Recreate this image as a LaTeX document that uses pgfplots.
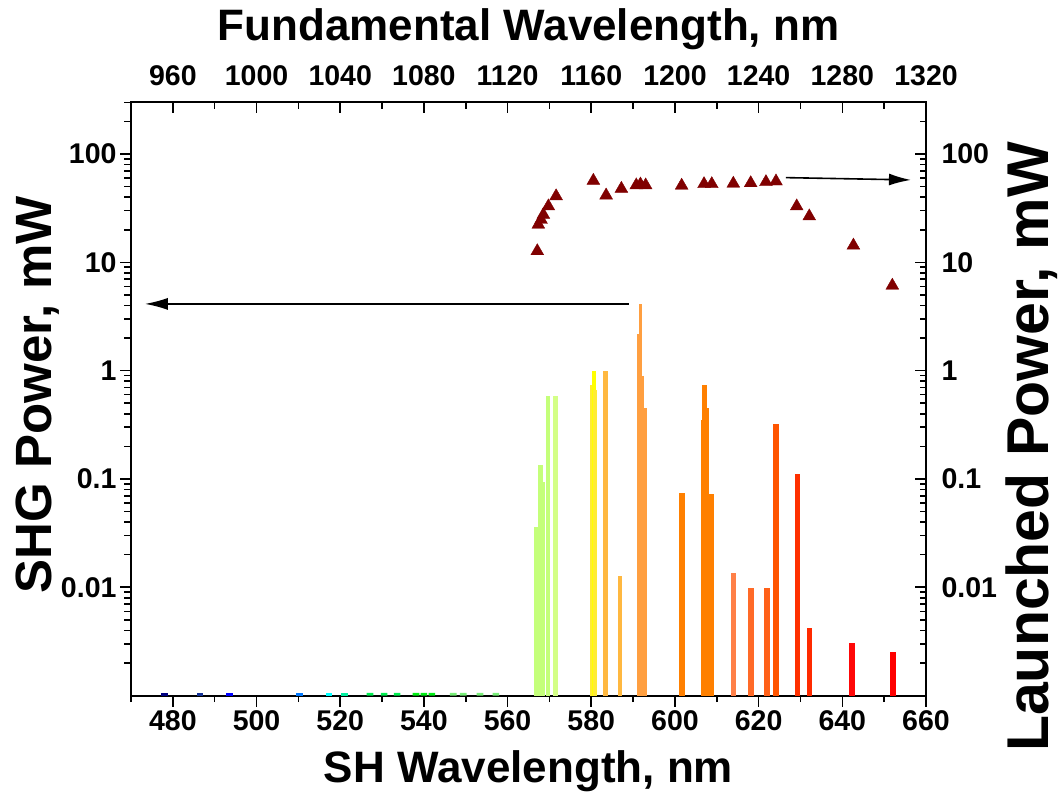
\documentclass[border=0pt]{standalone}
\usepackage{fontspec}
\setmainfont{Liberation Sans}
\usepackage{pgfplots}
\pgfplotsset{compat=1.18}
\usetikzlibrary{arrows.meta}
\definecolor{tri}{RGB}{128,0,0}
\definecolor{c1}{RGB}{0,0,128}
\definecolor{c2}{RGB}{20,50,150}
\definecolor{c3}{RGB}{0,0,255}
\definecolor{c4}{RGB}{0,120,255}
\definecolor{c5}{RGB}{0,255,255}
\definecolor{c6}{RGB}{0,240,160}
\definecolor{c7}{RGB}{0,238,80}
\definecolor{c8}{RGB}{0,238,20}
\definecolor{c9}{RGB}{120,238,120}
\definecolor{g1}{RGB}{196,255,122}
\definecolor{g2}{RGB}{212,255,135}
\definecolor{y1}{RGB}{255,236,50}
\definecolor{y2}{RGB}{255,255,0}
\definecolor{o1}{RGB}{255,184,64}
\definecolor{o2}{RGB}{255,159,64}
\definecolor{o3}{RGB}{255,128,0}
\definecolor{o4}{RGB}{255,128,72}
\definecolor{o5}{RGB}{255,106,40}
\definecolor{o6}{RGB}{255,96,24}
\definecolor{o7}{RGB}{255,85,0}
\definecolor{r1}{RGB}{255,48,0}
\definecolor{r2}{RGB}{255,42,0}
\definecolor{r3}{RGB}{255,8,8}
\definecolor{r4}{RGB}{255,0,0}
\begin{document}
\begin{tikzpicture}
\useasboundingbox (-131pt,-97.4pt) rectangle (931pt,695.6pt);
\begin{axis}[
  scale only axis, width=795pt, height=593.3pt,
  ymode=log, ymin=0.001, ymax=300, log origin=infty,
  ytick={0.01,0.1,1,10,100}, yticklabels={0.01,0.1,1,10,100},
  minor ytick={0.002,0.003,0.004,0.005,0.006,0.007,0.008,0.009,0.02,0.03,0.04,0.05,0.06,0.07,0.08,0.09,0.2,0.3,0.4,0.5,0.6,0.7,0.8,0.9,2,3,4,5,6,7,8,9,20,30,40,50,60,70,80,90,200,300},
  /pgf/number format/assume math mode=true,
  scaled x ticks=false,
  tick label style={font=\fontsize{28.5}{28.5}\selectfont\bfseries},
  axis line style={line width=2pt},
  every tick/.style={line width=1.6pt, black},
  major tick length=11pt, minor tick length=6.5pt,
  xmin=470, xmax=660,
  xtick={480,500,...,660}, minor xtick={470,490,...,650},
  xtick pos=bottom, ytick pos=left, tick align=outside,
  xlabel={SH Wavelength, nm}, ylabel={SHG Power, mW},
  xlabel style={font=\fontsize{44}{44}\selectfont\bfseries, at={(axis description cs:0.5,-0.147)}, anchor=base},
  ylabel style={font=\fontsize{51}{51}\selectfont\bfseries, at={(axis description cs:-0.118,0.507)}, anchor=center},
]
% baseline bars
\addplot[ybar, bar shift=0pt, bar width=1.6, draw=none, fill=c1] coordinates {(478.0,0.00106)};
\addplot[ybar, bar shift=0pt, bar width=1.6, draw=none, fill=c2] coordinates {(486.5,0.00106)};
\addplot[ybar, bar shift=0pt, bar width=1.6, draw=none, fill=c3] coordinates {(493.5,0.00106)};
\addplot[ybar, bar shift=0pt, bar width=1.6, draw=none, fill=c4] coordinates {(510.3,0.00106)};
\addplot[ybar, bar shift=0pt, bar width=1.6, draw=none, fill=c5] coordinates {(517.3,0.00106)};
\addplot[ybar, bar shift=0pt, bar width=1.6, draw=none, fill=c6] coordinates {(521.1,0.00106)};
\addplot[ybar, bar shift=0pt, bar width=1.6, draw=none, fill=c7] coordinates {(527.1,0.00106) (530.5,0.00106) (533.6,0.00106)};
\addplot[ybar, bar shift=0pt, bar width=1.6, draw=none, fill=c8] coordinates {(538.1,0.00106) (540.0,0.00106) (541.9,0.00106)};
\addplot[ybar, bar shift=0pt, bar width=1.6, draw=none, fill=c9] coordinates {(547.0,0.00106) (549.4,0.00106) (553.4,0.00106) (557.2,0.00106)};
% green cluster
\addplot[ybar, bar shift=0pt, bar width=1.0, draw=none, fill=g1] coordinates {(566.9,0.036)};
\addplot[ybar, bar shift=0pt, bar width=1.2, draw=none, fill=g1] coordinates {(567.8,0.135)};
\addplot[ybar, bar shift=0pt, bar width=0.8, draw=none, fill=g1] coordinates {(568.6,0.0945)};
\addplot[ybar, bar shift=0pt, bar width=1.1, draw=none, fill=g1] coordinates {(569.7,0.587)};
\addplot[ybar, bar shift=0pt, bar width=1.1, draw=none, fill=g2] coordinates {(571.5,0.587)};
% yellow cluster
\addplot[ybar, bar shift=0pt, bar width=1.4, draw=none, fill=y1] coordinates {(580.3,0.74)};
\addplot[ybar, bar shift=0pt, bar width=1.0, draw=none, fill=y2] coordinates {(580.6,1.0)};
\addplot[ybar, bar shift=0pt, bar width=0.9, draw=none, fill=y1] coordinates {(580.9,0.66)};
\addplot[ybar, bar shift=0pt, bar width=1.2, draw=none, fill=o1] coordinates {(583.5,0.99)};
\addplot[ybar, bar shift=0pt, bar width=0.9, draw=none, fill=o1] coordinates {(586.9,0.0127)};
% orange cluster
\addplot[ybar, bar shift=0pt, bar width=1.6, draw=none, fill=o2] coordinates {(591.8,0.89)};
\addplot[ybar, bar shift=0pt, bar width=1.2, draw=none, fill=o2] coordinates {(591.6,2.2)};
\addplot[ybar, bar shift=0pt, bar width=0.7, draw=none, fill=o2] coordinates {(591.7,4.13)};
\addplot[ybar, bar shift=0pt, bar width=0.9, draw=none, fill=o2] coordinates {(592.8,0.45)};
% 600-610
\addplot[ybar, bar shift=0pt, bar width=1.3, draw=none, fill=o3] coordinates {(601.7,0.0747)};
\addplot[ybar, bar shift=0pt, bar width=1.3, draw=none, fill=o3] coordinates {(606.9,0.35)};
\addplot[ybar, bar shift=0pt, bar width=1.3, draw=none, fill=o3] coordinates {(607.1,0.743)};
\addplot[ybar, bar shift=0pt, bar width=1.6, draw=none, fill=o3] coordinates {(607.4,0.45)};
\addplot[ybar, bar shift=0pt, bar width=1.3, draw=none, fill=o3] coordinates {(608.7,0.0727)};
% 610-660
\addplot[ybar, bar shift=0pt, bar width=1.4, draw=none, fill=o4] coordinates {(614.0,0.0135)};
\addplot[ybar, bar shift=0pt, bar width=1.4, draw=none, fill=o5] coordinates {(618.2,0.0099)};
\addplot[ybar, bar shift=0pt, bar width=1.3, draw=none, fill=o6] coordinates {(622.0,0.0099)};
\addplot[ybar, bar shift=0pt, bar width=1.3, draw=none, fill=o7] coordinates {(624.1,0.322)};
\addplot[ybar, bar shift=0pt, bar width=1.4, draw=none, fill=r1] coordinates {(629.3,0.112)};
\addplot[ybar, bar shift=0pt, bar width=1.3, draw=none, fill=r2] coordinates {(632.2,0.00418)};
\addplot[ybar, bar shift=0pt, bar width=1.4, draw=none, fill=r3] coordinates {(642.4,0.00308)};
\addplot[ybar, bar shift=0pt, bar width=1.4, draw=none, fill=r4] coordinates {(652.1,0.00254)};
\draw[-{Latex[length=23pt,width=12pt]}, line width=1.6pt] (axis cs:589,4.13) -- (axis cs:473.3,4.13);
\end{axis}
\begin{axis}[
  scale only axis, width=795pt, height=593.3pt,
  ymode=log, ymin=0.001, ymax=300,
  ytick={0.01,0.1,1,10,100}, yticklabels={0.01,0.1,1,10,100},
  minor ytick={0.002,0.003,0.004,0.005,0.006,0.007,0.008,0.009,0.02,0.03,0.04,0.05,0.06,0.07,0.08,0.09,0.2,0.3,0.4,0.5,0.6,0.7,0.8,0.9,2,3,4,5,6,7,8,9,20,30,40,50,60,70,80,90,200,300},
  xticklabels={960,1000,1040,1080,1120,1160,1200,1240,1280,1320},
  scaled x ticks=false,
  tick label style={font=\fontsize{28.5}{28.5}\selectfont\bfseries},
  xticklabel shift=13pt, yticklabel shift=12pt,
  axis line style={line width=2pt},
  every tick/.style={line width=1.6pt, black},
  major tick length=11pt, minor tick length=6.5pt,
  xmin=940, xmax=1320,
  xtick={960,1000,...,1320}, minor xtick={940,980,...,1300},
  axis x line*=top, axis y line*=right, tick align=inside,
  xlabel={Fundamental Wavelength, nm}, ylabel={Launched Power, mW},
  xlabel style={font=\fontsize{44}{44}\selectfont\bfseries, at={(axis description cs:0.5,1.105)}, anchor=base},
  ylabel style={font=\fontsize{59}{59}\selectfont\bfseries, at={(axis description cs:1.133,0.419)}, anchor=center},
]
\addplot[only marks, mark=triangle*, mark size=7.4pt, color=tri] coordinates {
(1134.2,12.7) (1134.7,22.3) (1136.0,24.7) (1137.1,27.5) (1139.5,32.9) (1143.2,40.8)
(1161.0,56.7) (1167.1,41.5) (1174.4,47.8) (1181.5,51.4) (1183.5,52.4) (1186.0,51.4)
(1203.2,51.1) (1213.9,52.8) (1217.6,52.8) (1227.9,53.3) (1236.2,53.9) (1243.5,55.1)
(1248.3,55.9) (1258.2,32.9) (1264.2,26.6) (1285.3,14.3) (1303.9,6.1)
};
\draw[-{Latex[length=22pt,width=12pt]}, line width=1.6pt] (axis cs:1253,60.5) -- (axis cs:1312.8,57.6);
\end{axis}
\end{tikzpicture}
\end{document}
